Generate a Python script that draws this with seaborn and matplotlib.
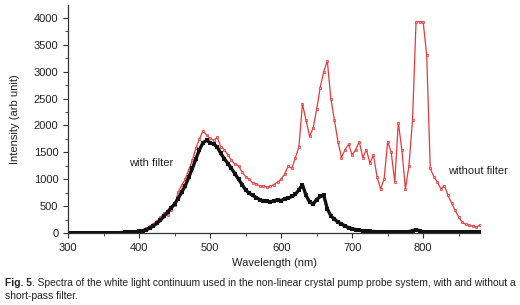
"""
plot.py

Spectra of the white light continuum, with and without short-pass filter
"""

import numpy as np
import pandas as pd
import seaborn as sns
from matplotlib import pyplot as plt

#------------------------------------------------------------------------------
# Data (5 nm steps)
#------------------------------------------------------------------------------
wavelength = np.arange(300, 881, 5)

without_filter = [
    5, 5, 5, 5, 5, 5, 5, 5, 5, 5, 5, 6, 6, 8, 10, 12, 15, 20, 28, 38,          # 300-395
    50, 65, 90, 125, 170, 220, 290, 370, 330, 420, 520, 760, 890, 1000, 1180,  # 400-470
    1350, 1580, 1750, 1900, 1820, 1760, 1720, 1780, 1600, 1550, 1450, 1350,    # 475-530
    1280, 1250, 1130, 1050, 1000, 930, 920, 870, 880, 850, 870, 900, 950,      # 535-595
    1000, 1100, 1250, 1200, 1400, 1600, 2400, 2100, 1800, 1950, 2300, 2700,    # 600-655
    3000, 3200, 2500, 2100, 1700, 1400, 1550, 1650, 1450, 1550, 1700, 1400,    # 660-715
    1550, 1300, 1450, 1050, 820, 1000, 1700, 1500, 950, 2050, 1550, 820,       # 720-775
    1250, 2100, 3930, 3930, 3930, 3300, 1200, 1050, 950, 820, 880, 700, 560,   # 780-840
    420, 300, 200, 160, 140, 130, 120, 140,                                    # 845-880
]

with_filter = [
    3, 3, 3, 3, 3, 3, 3, 3, 3, 3, 3, 4, 4, 5, 6, 8, 10, 14, 18, 25,            # 300-395
    30, 40, 60, 90, 130, 180, 240, 310, 390, 470, 540, 640, 760, 880, 1040,    # 400-470
    1200, 1380, 1550, 1680, 1720, 1680, 1650, 1600, 1480, 1380, 1290, 1200,    # 475-530
    1100, 1000, 900, 800, 740, 700, 660, 620, 600, 590, 580, 600, 620,         # 535-595
    600, 640, 650, 680, 720, 800, 900, 700, 580, 540, 620, 680,                # 600-655
    700, 450, 320, 260, 200, 170, 130, 100, 80, 65, 50, 40,                    # 660-715
    35, 30, 28, 25, 25, 22, 20, 20, 20, 18, 18, 18,                            # 720-775
    25, 45, 60, 45, 25, 15, 15, 15, 15, 15, 15, 15, 15,                        # 780-840
    15, 15, 15, 15, 15, 15, 15, 15,                                            # 845-880
]

df = pd.DataFrame({'wavelength': wavelength,
                   'without filter': without_filter,
                   'with filter': with_filter})

#------------------------------------------------------------------------------
# Plot figure
#------------------------------------------------------------------------------
sns.set_style('ticks')
plt.rcParams['font.family'] = ['Liberation Sans', 'DejaVu Sans']
text_color = '#222222'

fig = plt.figure(figsize=(5.2, 3.05), dpi=100)
ax = fig.add_axes([0.131, 0.236, 0.792, 0.748])

sns.lineplot(data=df, x='wavelength', y='without filter', ax=ax,
             color='#e8383a', lw=0.9, marker='s', markersize=1.6,
             markeredgewidth=0.5, markerfacecolor='#f4a0a0',
             markeredgecolor='#e8383a')
sns.lineplot(data=df, x='wavelength', y='with filter', ax=ax,
             color='#111111', lw=2.4, marker='s', markersize=2.4,
             markeredgewidth=0)

ax.set_xlim(300, 880)
ax.set_ylim(0, 4240)
ax.set_xticks([300, 400, 500, 600, 700, 800])
ax.set_xticks(np.arange(350, 880, 100), minor=True)
ax.set_yticks(np.arange(0, 4001, 500))
ax.set_yticks(np.arange(250, 4240, 500), minor=True)
ax.tick_params(axis='both', which='major', direction='out', length=3.5,
               width=0.8, labelsize=8, colors='#333333', labelcolor=text_color)
ax.tick_params(axis='both', which='minor', direction='out', length=2,
               width=0.6, colors='#333333')
ax.spines['right'].set_visible(False)
ax.spines['top'].set_visible(False)
for s in ('left', 'bottom'):
    ax.spines[s].set_color('#333333')
    ax.spines[s].set_linewidth(0.9)

ax.set_xlabel('Wavelength (nm)', fontsize=8, color=text_color, labelpad=4)
ax.set_ylabel('Intensity (arb unit)', fontsize=8, color=text_color, labelpad=10)

ax.text(386, 1300, 'with filter', fontsize=8, color=text_color, va='center')
ax.text(835, 1160, 'without filter', fontsize=8, color=text_color, va='center')

# caption
cap_y1, cap_y2 = 0.063, 0.02
cap_bold = fig.text(0.01, cap_y1, 'Fig. 5', fontsize=7.4, fontweight='bold',
                    color=text_color)
fig.canvas.draw()
bb = cap_bold.get_window_extent(fig.canvas.get_renderer())
x_next = bb.x1 / fig.bbox.width
fig.text(x_next, cap_y1, '. Spectra of the white light continuum used in the '
         'non-linear crystal pump probe system, with and without a',
         fontsize=7.4, color=text_color)
fig.text(0.01, cap_y2, 'short-pass filter.', fontsize=7.4, color=text_color)

#------------------------------------------------------------------------------
# Save figure
#------------------------------------------------------------------------------
plt.savefig('out.png', dpi=100)
